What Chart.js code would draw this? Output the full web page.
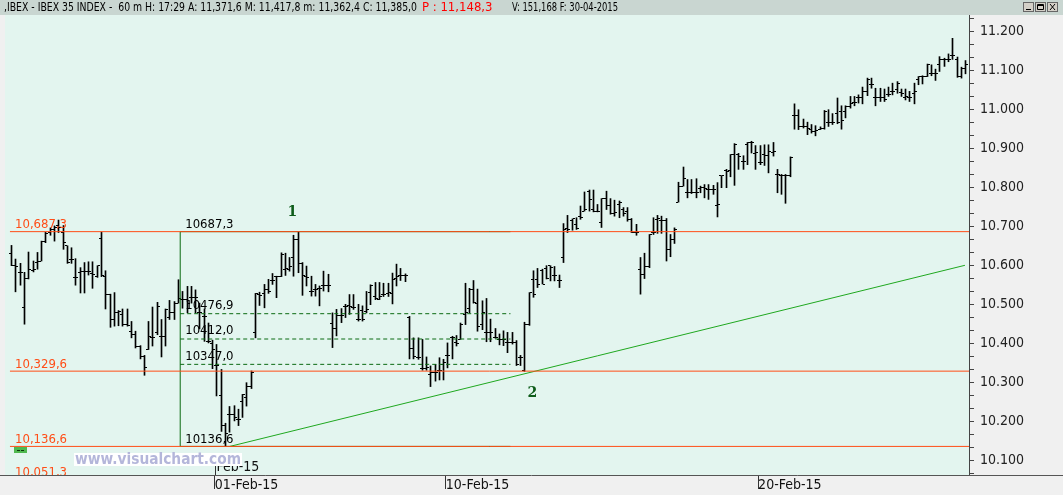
<!DOCTYPE html>
<html><head><meta charset="utf-8">
<script src="https://cdn.jsdelivr.net/npm/chart.js@4.4.1/dist/chart.umd.min.js"></script>
<style>html,body{margin:0;padding:0;background:#f0f0f0;overflow:hidden}canvas{display:block}</style>
</head><body>
<canvas id="c" width="1063" height="495"></canvas>
<script>
// ---- hourly OHLC bars, IBEX 35 (late Jan - Feb 2015), index = bar number ----
const opens = [
10632,10600,10583,10493,10566,10587,10608,10612,10662,10685,
10693,10702,10686,10651,10617,10570,10583,10584,10584,10581,
10572,10669,10572,10527,10463,10480,10474,10448,10432,10423,
10392,10366,10385,10415,10428,10419,10419,10466,10480,10504,
10514,10514,10519,10519,10479,10470,10406,10400,10343,10266,
10190,10219,10219,10205,10253,10262,10290,10428,10526,10529,
10538,10561,10572,10572,10591,10591,10621,10666,10606,10573,
10535,10539,10541,10548,10550,10452,10438,10471,10495,10497,
10492,10462,10486,10483,10530,10521,10514,10525,10528,10528,
10568,10574,10576,10466,10387,10364,10336,10336,10321,10327,
10330,10347,10370,10415,10402,10411,10474,10490,10540,10504,
10449,10429,10428,10417,10412,10410,10404,10404,10402,10365,
10331,10448,10565,10565,10587,10593,10600,10574,10561,10621,
10695,10717,10706,10727,10740,10789,10743,10740,10710,10772,
10755,10734,10757,10744,10740,10719,10686,10591,10578,10598,
10685,10719,10717,10717,10642,10668,10763,10804,10787,10787,
10787,10797,10800,10795,10795,10755,10830,10845,10845,10885,
10885,10868,10910,10915,10887,10864,10885,10882,10891,10834,
10831,10831,10830,10985,10985,10956,10956,10949,10945,10950,
10953,10966,10966,10991,10995,10996,11007,11019,11030,11030,
11047,11064,11030,11030,11030,11038,11047,11051,11044,11030,
11030,11042,11077,11085,11085,11094,11094,11115,11128,11129,
11140,11128,11085,11106
];
const highs = [
10652,10617,10606,10583,10635,10612,10634,10663,10686,10697,
10702,10717,10703,10651,10646,10618,10595,10608,10610,10610,
10600,10686,10587,10527,10531,10485,10489,10489,10457,10432,
10395,10370,10457,10494,10506,10462,10489,10511,10508,10564,
10534,10547,10547,10538,10504,10489,10453,10409,10398,10334,
10196,10239,10241,10232,10270,10300,10330,10529,10532,10552,
10565,10580,10573,10633,10632,10621,10678,10686,10608,10599,
10573,10552,10548,10586,10578,10479,10488,10490,10501,10526,
10526,10501,10497,10534,10551,10557,10557,10555,10555,10581,
10604,10593,10579,10470,10415,10415,10411,10366,10343,10347,
10364,10360,10402,10419,10421,10453,10555,10542,10562,10540,
10510,10516,10463,10439,10425,10433,10429,10429,10408,10370,
10455,10531,10587,10593,10591,10600,10600,10598,10576,10708,
10729,10720,10723,10753,10789,10794,10794,10757,10772,10791,
10772,10768,10766,10749,10749,10721,10706,10621,10632,10680,
10723,10729,10727,10721,10680,10697,10814,10853,10821,10821,
10823,10804,10808,10808,10806,10813,10831,10847,10885,10913,
10888,10882,10916,10919,10908,10908,10910,10910,10916,10847,
10834,10834,10879,11015,11000,10976,10968,10962,10959,10956,
10998,11000,10990,11030,11010,11010,11034,11034,11038,11058,
11081,11081,11055,11055,11053,11058,11068,11072,11053,11053,
11047,11068,11085,11087,11117,11115,11104,11136,11132,11143,
11183,11135,11109,11126
];
const lows = [
10600,10533,10550,10450,10566,10584,10591,10612,10659,10678,
10663,10685,10642,10606,10606,10550,10530,10530,10576,10542,
10570,10572,10489,10442,10445,10446,10445,10445,10415,10389,
10361,10319,10385,10394,10423,10366,10394,10462,10462,10504,
10491,10479,10504,10479,10438,10406,10402,10336,10266,10175,
10137,10173,10202,10190,10211,10240,10285,10415,10498,10492,
10529,10552,10518,10572,10575,10586,10573,10582,10524,10548,
10522,10522,10497,10535,10533,10390,10420,10454,10467,10475,
10488,10458,10458,10479,10500,10513,10513,10521,10521,10502,
10548,10562,10559,10361,10361,10360,10332,10332,10290,10304,
10307,10307,10338,10361,10394,10411,10449,10479,10504,10432,
10436,10405,10405,10414,10397,10395,10377,10399,10344,10344,
10329,10447,10519,10544,10553,10566,10561,10561,10544,10608,
10685,10691,10693,10719,10740,10740,10738,10738,10698,10744,
10732,10727,10723,10727,10714,10685,10678,10527,10567,10595,
10680,10683,10683,10612,10623,10657,10763,10804,10774,10785,
10774,10787,10774,10770,10783,10725,10800,10800,10828,10806,
10847,10847,10859,10889,10847,10859,10857,10838,10881,10787,
10783,10760,10828,10950,10949,10953,10936,10940,10933,10949,
10950,10957,10962,10964,10950,10979,11004,11010,11017,11015,
11036,11055,11010,11021,11021,11034,11038,11042,11034,11025,
11021,11015,11064,11066,11085,11087,11075,11098,11111,11123,
11129,11083,11081,11092
];
const closes = [
10600,10597,10583,10566,10591,10591,10610,10663,10682,10692,
10697,10697,10659,10608,10615,10570,10584,10584,10586,10578,
10600,10574,10527,10463,10479,10482,10448,10446,10423,10394,
10368,10338,10419,10415,10496,10419,10487,10480,10504,10517,
10514,10504,10519,10519,10479,10470,10406,10385,10343,10190,
10170,10219,10211,10205,10270,10290,10325,10529,10524,10539,
10535,10563,10572,10629,10592,10597,10666,10606,10575,10569,
10535,10539,10541,10548,10550,10438,10471,10471,10495,10495,
10492,10462,10462,10487,10548,10517,10521,10525,10530,10565,
10572,10576,10576,10387,10368,10364,10336,10338,10326,10327,
10330,10351,10370,10415,10400,10449,10479,10540,10506,10444,
10480,10429,10428,10417,10410,10410,10404,10402,10346,10365,
10448,10530,10525,10553,10553,10567,10595,10574,10563,10693,
10693,10720,10695,10723,10743,10770,10740,10740,10772,10755,
10734,10736,10761,10734,10719,10686,10686,10578,10598,10680,
10685,10721,10717,10642,10668,10693,10804,10823,10787,10787,
10787,10800,10797,10795,10795,10757,10830,10842,10885,10910,
10881,10868,10916,10916,10889,10865,10882,10893,10893,10834,
10831,10830,10878,10985,10956,10956,10953,10945,10947,10953,
10996,10966,10966,10968,10973,11007,11017,11019,11030,11047,
11077,11064,11030,11030,11025,11038,11047,11068,11041,11034,
11030,11047,11085,11085,11115,11092,11094,11129,11128,11129,
11138,11085,11106,11117
];

// ---- axis ticks ----
const dayTickBars = [47.5, 101.5, 174.5];              // session boundaries (bar index)
const dayTickLabels = ['01-Feb-15', '10-Feb-15', '20-Feb-15'];
const monthMarkLabel = 'Feb-15';
const yMin = 10063.3, yMax = 11242.8;
const xMin = -1.56, xMax = 223.8;
const yLabelStep = 100, yMinorDivisions = 3;

// ---- drawn studies ----
const supportLevels = [10687.3, 10329.6, 10136.6];
const supportLabels = ['10,687,3', '10,329,6', '10,136,6'];
const lowestLabel = '10,051,3';
const boxStartBar = 39.4, boxEndBar = 116.6;
const boxHigh = 10687.3, boxLow = 10136.6;
const boxHighLabel = '10687,3', boxLowLabel = '10136,6';
const retraceLevels = [10476.9, 10412.0, 10347.0];
const retraceLabels = ['10476,9', '10412,0', '10347,0'];
const trendStart = {x: 51.0, y: 10136.6};
const trendEnd = {x: 222.85, y: 10601};
const pointMarks = [{text: '1', x: 65.6, y: 10738}, {text: '2', x: 121.7, y: 10273}];
const headerLeft = ',IBEX - IBEX 35 INDEX -  60 m H: 17:29 A: 11,371,6 M: 11,417,8 m: 11,362,4 C: 11,385,0';
const headerRed = 'P : 11,148,3';
const headerRight = 'V: 151,168 F: 30-04-2015';

const NARROW = '"Liberation Sans Narrow", "DejaVu Sans Condensed", "Roboto Condensed", "Liberation Sans", sans-serif';
const ORANGE = '#ff4d17', DKGREEN = '#0b6a12', TRGREEN = '#1fa81f';

function tickImage(side) {
  const c = document.createElement('canvas');
  c.width = 5; c.height = 1;
  const g = c.getContext('2d');
  g.fillStyle = '#000';
  g.fillRect(side === 'open' ? 0 : 3, 0, 2, 1);
  return c;
}
const n = Math.min(opens.length, highs.length, lows.length, closes.length);
const idx = Array.from({length: n}, (_, i) => i);

const lineDs = (data, color, extra) => Object.assign({
  type: 'line', data, borderColor: color, borderWidth: 1, pointRadius: 0,
  fill: false, tension: 0, order: 0
}, extra || {});

const datasets = [
  {type: 'bar', data: idx.map(i => ({x: i, y: [lows[i], highs[i]]})),
   backgroundColor: '#000', barThickness: 1, order: 3, grouped: false},
  {type: 'scatter', data: idx.map(i => ({x: i, y: opens[i]})),
   pointStyle: tickImage('open'), pointRadius: 1, order: 2},
  {type: 'scatter', data: idx.map(i => ({x: i, y: closes[i]})),
   pointStyle: tickImage('close'), pointRadius: 1, order: 2},
];
supportLevels.forEach(v => datasets.push(lineDs([{x: -0.4, y: v}, {x: xMax, y: v}], ORANGE)));
datasets.push(lineDs([{x: boxStartBar, y: boxLow}, {x: boxStartBar, y: boxHigh}, {x: boxEndBar, y: boxHigh}], DKGREEN));
datasets.push(lineDs([{x: boxStartBar, y: boxLow}, {x: boxEndBar, y: boxLow}], DKGREEN));
retraceLevels.forEach(v => datasets.push(lineDs([{x: boxStartBar, y: v}, {x: boxEndBar, y: v}], DKGREEN, {borderDash: [4, 3]})));
datasets.push(lineDs([trendStart, trendEnd], TRGREEN));

const decor = {
  id: 'decor',
  afterDatasetsUpdate(chart) {
    // snap OHLC marks to the pixel grid so 1px strokes stay crisp
    [0, 1, 2].forEach(d => {
      chart.getDatasetMeta(d).data.forEach(el => {
        el.x = Math.floor(el.x) + 0.5;
        if (d > 0) el.y = Math.floor(el.y) + 0.5;
      });
    });
  },
  beforeDraw(chart) {
    const {ctx, chartArea: a} = chart;
    ctx.save();
    ctx.fillStyle = '#f0f0f0'; ctx.fillRect(0, 0, chart.width, chart.height);
    ctx.fillStyle = '#c9d6d1'; ctx.fillRect(0, 0, chart.width, a.top);
    ctx.fillStyle = '#e3f5ef'; ctx.fillRect(a.left, a.top, a.right - a.left, a.bottom - a.top);
    ctx.restore();
  },
  beforeDatasetsDraw(chart) { chart.ctx.imageSmoothingEnabled = false; },
  afterDatasetsDraw(chart) { chart.ctx.imageSmoothingEnabled = true; },
  afterDraw(chart) {
    const {ctx, chartArea: a, scales: {x, y}} = chart;
    ctx.save();
    ctx.strokeStyle = '#555'; ctx.lineWidth = 1;
    ctx.beginPath(); ctx.moveTo(0, a.bottom + 0.5); ctx.lineTo(chart.width, a.bottom + 0.5); ctx.stroke();
    const mx = Math.round(x.getPixelForValue(dayTickBars[0])) + 0.5;
    ctx.strokeStyle = '#333';
    ctx.beginPath(); ctx.moveTo(mx, a.bottom - 15); ctx.lineTo(mx, a.bottom); ctx.stroke();
    ctx.fillStyle = '#111'; ctx.font = '14px ' + NARROW; ctx.textBaseline = 'middle'; ctx.textAlign = 'left';
    ctx.fillText(monthMarkLabel, mx + 1, a.bottom - 8);

    ctx.save();
    ctx.beginPath(); ctx.rect(a.left, a.top, a.right - a.left, a.bottom - a.top); ctx.clip();
    ctx.font = '13px ' + NARROW; ctx.fillStyle = ORANGE; ctx.textBaseline = 'middle';
    supportLevels.forEach((v, k) => ctx.fillText(supportLabels[k], a.left + 10, y.getPixelForValue(v) - 7));
    ctx.fillText(lowestLabel, a.left + 10, y.getPixelForValue(boxLow) + 26);
    const gy = Math.round(y.getPixelForValue(boxLow)) + 1;
    ctx.fillStyle = '#4fb84f'; ctx.fillRect(a.left + 9, gy, 13, 6);
    ctx.fillStyle = '#0a3a0a'; ctx.fillRect(a.left + 12, gy + 3, 3, 1); ctx.fillRect(a.left + 16, gy + 3, 3, 1);
    ctx.fillStyle = '#000'; ctx.font = '13px ' + NARROW;
    const bx = x.getPixelForValue(boxStartBar) + 5;
    ctx.fillText(boxHighLabel, bx, y.getPixelForValue(boxHigh) - 7);
    retraceLevels.forEach((v, k) => ctx.fillText(retraceLabels[k], bx, y.getPixelForValue(v) - 8));
    ctx.fillText(boxLowLabel, bx, y.getPixelForValue(boxLow) - 7);
    ctx.fillStyle = '#0e5c1a'; ctx.font = 'bold 14px "DejaVu Serif", "Liberation Serif", serif'; ctx.textAlign = 'center';
    pointMarks.forEach(p => ctx.fillText(p.text, x.getPixelForValue(p.x), y.getPixelForValue(p.y)));
    ctx.fillStyle = '#ffffff'; ctx.fillRect(74, 453, 168, 13);
    ctx.fillStyle = '#b4b6da'; ctx.font = 'bold 15px "DejaVu Sans", Verdana, sans-serif'; ctx.textAlign = 'left';
    ctx.fillText('www.visualchart.com', 75, 460, 166);
    ctx.restore();

    ctx.textBaseline = 'middle'; ctx.textAlign = 'left'; ctx.font = '13px ' + NARROW;
    ctx.fillStyle = '#000'; ctx.fillText(headerLeft, 4, 8, 413);
    ctx.fillStyle = '#ff0000'; ctx.fillText(headerRed, 422, 8, 86);
    ctx.fillStyle = '#000'; ctx.fillText(headerRight, 512, 8, 106);
    const bxs = [1023, 1035, 1047];
    bxs.forEach((b, k) => {
      ctx.fillStyle = '#d4d0c8'; ctx.fillRect(b, 2, 11, 10);
      ctx.strokeStyle = '#666'; ctx.strokeRect(b + 0.5, 2.5, 10, 9);
      ctx.strokeStyle = '#000'; ctx.beginPath();
      if (k === 0) { ctx.moveTo(b + 3, 9.5); ctx.lineTo(b + 8, 9.5); }
      if (k === 1) { ctx.rect(b + 2.5, 4.5, 6, 5); ctx.moveTo(b + 2.5, 5.5); ctx.lineTo(b + 8.5, 5.5); }
      if (k === 2) { ctx.moveTo(b + 3, 4); ctx.lineTo(b + 8, 10); ctx.moveTo(b + 8, 4); ctx.lineTo(b + 3, 10); }
      ctx.stroke();
    });
    ctx.restore();
  }
};

new Chart(document.getElementById('c'), {
  type: 'bar',
  data: {datasets},
  plugins: [decor],
  options: {
    responsive: false, animation: false, devicePixelRatio: 1,
    layout: {padding: {top: 15, left: 0, right: 0, bottom: 0}},
    plugins: {legend: {display: false}, tooltip: {enabled: false}},
    scales: {
      x: {
        type: 'linear', position: 'bottom', min: xMin, max: xMax, offset: false,
        grid: {drawOnChartArea: false, drawTicks: true, tickLength: 14, color: '#333', offset: false},
        border: {display: false},
        afterBuildTicks: s => { s.ticks = dayTickBars.map(v => ({value: v})); },
        afterFit: s => { s.height = 20; },
        ticks: {align: 'start', padding: -12, autoSkip: false, maxRotation: 0, color: '#111',
          font: {family: NARROW, size: 14},
          callback: (v, i) => dayTickLabels[i]}
      },
      y: {
        type: 'linear', position: 'right', min: yMin, max: yMax,
        grid: {drawOnChartArea: false, tickLength: 5, color: '#444'},
        border: {display: true, color: '#444'},
        afterBuildTicks: s => {
          const step = yLabelStep / yMinorDivisions, t = [];
          for (let k = Math.ceil(yMin / step); k * step <= yMax; k++) t.push({value: k * step});
          s.ticks = t;
        },
        afterFit: s => { s.width = 94; },
        ticks: {padding: 6, autoSkip: false, color: '#222', font: {family: NARROW, size: 14},
          callback: v => {
            const r = v / yLabelStep;
            return Math.abs(r - Math.round(r)) < 0.01 ? (Math.round(r) * yLabelStep / 1000).toFixed(3) : '';
          }}
      }
    }
  }
});
</script>
</body></html>
